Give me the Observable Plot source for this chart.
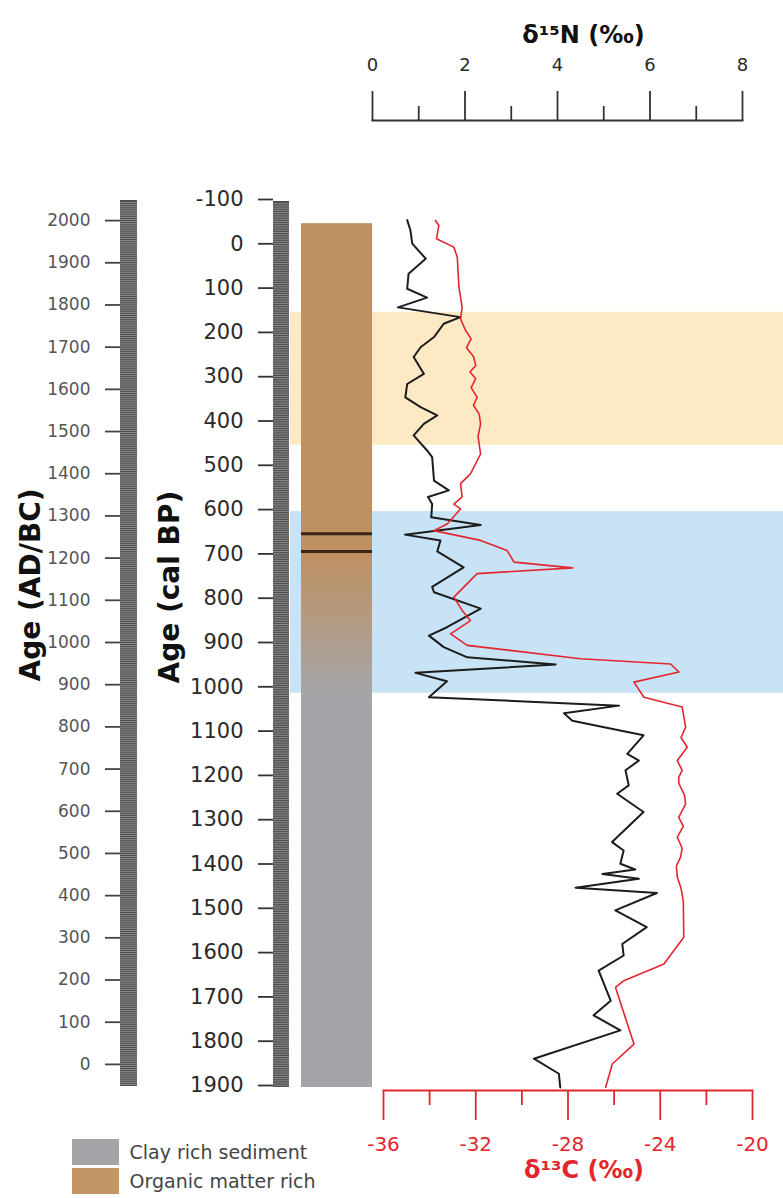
<!DOCTYPE html>
<html><head><meta charset="utf-8">
<script src="https://cdn.jsdelivr.net/npm/d3@7"></script>
<script src="https://cdn.jsdelivr.net/npm/@observablehq/plot@0.6"></script>
<style>
body{margin:0;background:#fff;}
#chart{position:relative;width:783px;height:1198px;overflow:hidden;background:#fff;}
#chart > svg{position:absolute;left:0;top:0;}
</style></head><body><div id="chart"></div>
<script>
// ---------- data ----------
// δ15N (‰) record (black), by age in cal BP
const n15Age = [-58,-35,-5,29,63,97,117,139,161,176,206,229,251,289,312,342,364,383,402,428,462,477,530,552,567,583,613,630,652,665,690,726,770,782,819,861,880,906,929,945,964,983,1019,1038,1055,1072,1105,1147,1162,1184,1218,1237,1278,1346,1365,1395,1408,1418,1429,1449,1461,1500,1538,1576,1602,1636,1704,1737,1771,1835,1869,1900];
const n15Val = [0.75,0.82,0.86,1.15,0.78,0.75,1.18,0.55,1.90,1.54,1.33,1.04,0.89,1.11,0.75,0.71,1.04,1.40,1.11,0.89,1.18,1.29,1.33,1.65,1.20,1.29,1.27,2.34,0.70,1.47,1.40,1.97,1.29,1.33,2.34,1.61,1.22,1.54,2.05,3.96,0.93,1.61,1.22,5.33,4.14,4.32,5.86,5.51,5.76,5.47,5.54,5.29,5.86,5.18,5.43,5.36,5.68,4.97,5.76,4.39,6.15,5.25,5.93,5.40,5.43,4.89,5.15,4.78,5.36,3.49,4.03,4.06];
// δ13C (‰) record (red), by age in cal BP
const c13Age = [-57,-46,-16,3,26,93,139,165,190,210,230,250,270,285,300,320,342,360,380,402,430,470,515,537,567,583,594,628,643,665,688,714,727,740,793,823,846,876,902,932,944,962,985,1019,1041,1087,1110,1132,1162,1184,1200,1214,1240,1260,1290,1310,1335,1360,1380,1400,1425,1450,1480,1561,1621,1659,1674,1802,1847,1900];
const c13Val = [-33.75,-33.60,-33.70,-32.95,-32.80,-32.73,-32.59,-32.66,-32.45,-32.20,-32.40,-32.10,-32.00,-32.25,-32.00,-32.20,-31.94,-32.10,-31.85,-31.79,-31.90,-31.79,-32.23,-32.66,-32.59,-32.95,-32.66,-33.24,-33.82,-31.79,-30.64,-30.34,-27.80,-31.94,-32.95,-32.59,-32.23,-33.09,-32.37,-27.46,-23.55,-23.19,-25.14,-24.71,-23.05,-22.90,-23.10,-22.83,-23.26,-23.05,-23.20,-23.19,-22.95,-22.90,-23.20,-23.00,-23.26,-23.05,-23.12,-23.30,-23.26,-23.10,-23.00,-22.98,-23.84,-25.58,-25.94,-25.14,-26.08,-26.37];
// highlighted intervals (cal BP)
const bandKind = ["interval A","interval B"];
const bandStart = [150, 600];
const bandEnd = [450, 1010];
// lithology (cal BP)
const lithoTop = -50, lithoBase = 1900;
const transitionStart = 700, transitionEnd = 1020;
const darkLayers = [650, 690];
const legendLabels = ["Clay rich sediment","Organic matter rich"];
// axis ticks
const bpTicks = [-100,0,100,200,300,400,500,600,700,800,900,1000,1100,1200,1300,1400,1500,1600,1700,1800,1900];
const adTicks = [0,100,200,300,400,500,600,700,800,900,1000,1100,1200,1300,1400,1500,1600,1700,1800,1900,2000];
const n15Major = [0,2,4,6,8], n15Minor = [1,3,5,7];
const c13Major = [-36,-32,-28,-24,-20], c13Minor = [-34,-30,-26,-22];

// ---------- layout ----------
const W = 783, H = 1198;
const BPdomain = [-100, 1900], BPrange = [201, 1087];
const RED = "#e3262e", BROWN = "#bf9162", GRAY = "#a4a5a9";
const chart = document.getElementById("chart");
const base = {width: W, height: H, style: {background: "transparent", fontFamily: "DejaVu Sans, sans-serif", overflow: "visible"}};
const fmt = d => String(d);
function add(p){ chart.append(p); return p; }

const n15 = n15Age.map((a,i) => ({age: a, v: n15Val[i]}));
const c13 = c13Age.map((a,i) => ({age: a, v: c13Val[i]}));
const bands = bandKind.map((k,i) => ({kind: k, start: bandStart[i], end: bandEnd[i]}));

// 1. highlighted intervals
add(Plot.plot({...base, marginLeft: 290, marginRight: 0, marginTop: 201, marginBottom: H - 1087,
  y: {domain: BPdomain, range: BPrange, axis: null},
  color: {domain: bandKind, range: ["#fde9c4", "#c8e3f5"]},
  marks: [Plot.rect(bands, {y1: "start", y2: "end", fill: "kind"})]
}));

// 2. lithology column
const litho = add(Plot.plot({...base, marginLeft: 301, marginRight: W - 372, marginTop: 201, marginBottom: H - 1087,
  y: {domain: BPdomain, range: BPrange, axis: null},
  marks: [
    Plot.rect([{top: lithoTop, base: lithoBase}], {y1: "top", y2: "base", fill: "url(#lithoGrad)"}),
    Plot.ruleY(darkLayers, {stroke: "#3a2616", strokeWidth: 3})
  ]
}));
{
  const ys = litho.scale("y");
  const defs = d3.select(litho).insert("defs", ":first-child");
  const g = defs.append("linearGradient").attr("id", "lithoGrad").attr("gradientUnits", "userSpaceOnUse")
    .attr("x1", 0).attr("x2", 0).attr("y1", ys.apply(transitionStart)).attr("y2", ys.apply(transitionEnd));
  g.append("stop").attr("offset", 0).attr("stop-color", BROWN);
  g.append("stop").attr("offset", 1).attr("stop-color", GRAY);
}

// 3. cal BP ruler
add(Plot.plot({...base, marginLeft: 273, marginRight: W - 289, marginTop: 201, marginBottom: H - 1087,
  y: {domain: BPdomain, range: BPrange, axis: null},
  marks: [
    Plot.rect([BPdomain], {y1: d => d[0], y2: d => d[1], fill: "#4f4f4f"}),
    Plot.ruleY(d3.range(BPdomain[0] + 5, BPdomain[1], 5), {stroke: "#b5b5b5", strokeWidth: 0.6}),
    Plot.axisY({anchor: "left", ticks: bpTicks, tickSize: 15, tickPadding: 15, tickFormat: fmt, label: null,
      fontSize: 21, stroke: "#333", strokeWidth: 1.8, fill: "#2a2a2a", dy: -2}),
    Plot.text(["Age (cal BP)"], {frameAnchor: "left", dx: -103, dy: 39, rotate: -90, fontWeight: "bold", fontSize: 28, fill: "#111"})
  ]
}));

// 4. AD/BC ruler
add(Plot.plot({...base, marginLeft: 120, marginRight: W - 137, marginTop: 200, marginBottom: H - 1086,
  y: {domain: [-50, 2050], axis: null},
  marks: [
    Plot.rect([[-50, 2050]], {y1: d => d[0], y2: d => d[1], fill: "#4f4f4f"}),
    Plot.ruleY(d3.range(-45, 2050, 5), {stroke: "#b5b5b5", strokeWidth: 0.6}),
    Plot.axisY({anchor: "left", ticks: adTicks, tickSize: 15, tickPadding: 15, tickFormat: fmt, label: null,
      fontSize: 17, stroke: "#444", strokeWidth: 1.8, fill: "#555", dy: -1}),
    Plot.text(["Age (AD/BC)"], {frameAnchor: "left", dx: -89, dy: 38, rotate: -90, fontWeight: "bold", fontSize: 28, fill: "#111"})
  ]
}));

// 5. legend
add(Plot.plot({...base, marginLeft: 72, marginRight: W - 119, marginTop: 1139, marginBottom: H - 1195,
  y: {type: "band", domain: legendLabels, paddingInner: 0.1, paddingOuter: 0, axis: null},
  color: {domain: legendLabels, range: [GRAY, "#c49566"]},
  marks: [
    Plot.cell(legendLabels, {y: d => d, fill: d => d}),
    Plot.text(legendLabels, {y: d => d, text: d => d, frameAnchor: "right", textAnchor: "start", dx: 10, fontSize: 19, fill: "#444"})
  ]
}));

// 6. δ15N curve with top axis
add(Plot.plot({...base, marginLeft: 372, marginRight: W - 742, marginTop: 120, marginBottom: H - 1087,
  x: {domain: [0, 8], axis: null},
  y: {domain: BPdomain, range: BPrange, axis: null},
  marks: [
    Plot.line(n15, {x: "v", y: "age", stroke: "#1c1c1c", strokeWidth: 2}),
    Plot.axisX({anchor: "top", ticks: n15Major, tickSize: 30, tickPadding: 20, tickFormat: fmt, label: null, fontSize: 18, stroke: "#333", strokeWidth: 1.8, fill: "#2a2a2a"}),
    Plot.axisX({anchor: "top", ticks: n15Minor, tickSize: 15, tickFormat: () => "", label: null, stroke: "#333", strokeWidth: 1.8}),
    Plot.frame({anchor: "top", stroke: "#333", strokeWidth: 1.8}),
    Plot.text(["δ¹⁵N (‰)"], {frameAnchor: "top", dx: 26, dy: -85, lineAnchor: "middle", fontWeight: "bold", fontSize: 24, fill: "#111"})
  ]
}));

// 7. δ13C curve with bottom axis
add(Plot.plot({...base, marginLeft: 383, marginRight: W - 752, marginTop: 201, marginBottom: H - 1090,
  x: {domain: [-36, -20], axis: null},
  y: {domain: BPdomain, range: BPrange, axis: null},
  marks: [
    Plot.line(c13, {x: "v", y: "age", stroke: RED, strokeWidth: 1.6}),
    Plot.axisX({anchor: "bottom", ticks: c13Major, tickSize: 30, tickPadding: 16, tickFormat: fmt, label: null, fontSize: 20, stroke: RED, strokeWidth: 1.8, fill: RED}),
    Plot.axisX({anchor: "bottom", ticks: c13Minor, tickSize: 15, tickFormat: () => "", label: null, stroke: RED, strokeWidth: 1.8}),
    Plot.frame({anchor: "bottom", stroke: RED, strokeWidth: 1.8}),
    Plot.text(["δ¹³C (‰)"], {frameAnchor: "bottom", dx: 16, dy: 80, lineAnchor: "middle", fontWeight: "bold", fontSize: 24, fill: RED})
  ]
}));
</script></body></html>
